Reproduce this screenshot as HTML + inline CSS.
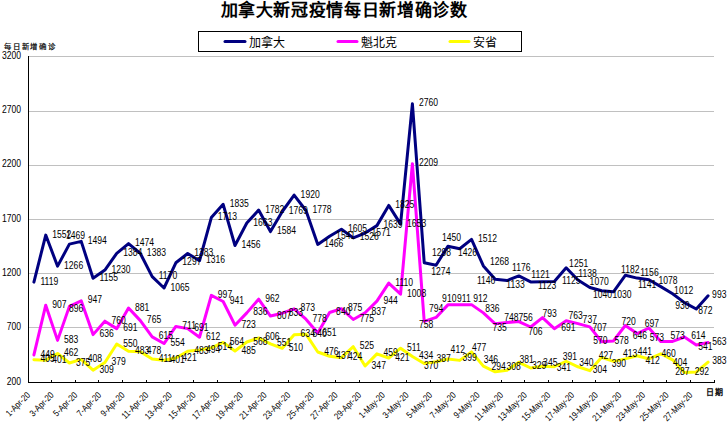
<!DOCTYPE html>
<html lang="zh-CN"><head><meta charset="utf-8"><style>
html,body{margin:0;padding:0;background:#fff;width:727px;height:423px;overflow:hidden}
svg{display:block}
text{font-family:"Liberation Sans",sans-serif}
</style></head><body>
<svg width="727" height="423" viewBox="0 0 727 423"><rect width="727" height="423" fill="#fff"/><line x1="28" y1="56.5" x2="714" y2="56.5" stroke="#c0c0c0" stroke-width="1"/><line x1="28" y1="111.5" x2="714" y2="111.5" stroke="#c0c0c0" stroke-width="1"/><line x1="28" y1="165.5" x2="714" y2="165.5" stroke="#c0c0c0" stroke-width="1"/><line x1="28" y1="219.5" x2="714" y2="219.5" stroke="#c0c0c0" stroke-width="1"/><line x1="28" y1="273.5" x2="714" y2="273.5" stroke="#c0c0c0" stroke-width="1"/><line x1="28" y1="327.5" x2="714" y2="327.5" stroke="#c0c0c0" stroke-width="1"/><line x1="28.5" y1="56" x2="28.5" y2="383" stroke="#000" stroke-width="1"/><line x1="28" y1="382.5" x2="715" y2="382.5" stroke="#000" stroke-width="1"/><line x1="51.5" y1="380" x2="51.5" y2="382" stroke="#000" stroke-width="1"/><line x1="75.5" y1="380" x2="75.5" y2="382" stroke="#000" stroke-width="1"/><line x1="98.5" y1="380" x2="98.5" y2="382" stroke="#000" stroke-width="1"/><line x1="122.5" y1="380" x2="122.5" y2="382" stroke="#000" stroke-width="1"/><line x1="146.5" y1="380" x2="146.5" y2="382" stroke="#000" stroke-width="1"/><line x1="169.5" y1="380" x2="169.5" y2="382" stroke="#000" stroke-width="1"/><line x1="193.5" y1="380" x2="193.5" y2="382" stroke="#000" stroke-width="1"/><line x1="217.5" y1="380" x2="217.5" y2="382" stroke="#000" stroke-width="1"/><line x1="240.5" y1="380" x2="240.5" y2="382" stroke="#000" stroke-width="1"/><line x1="264.5" y1="380" x2="264.5" y2="382" stroke="#000" stroke-width="1"/><line x1="288.5" y1="380" x2="288.5" y2="382" stroke="#000" stroke-width="1"/><line x1="311.5" y1="380" x2="311.5" y2="382" stroke="#000" stroke-width="1"/><line x1="335.5" y1="380" x2="335.5" y2="382" stroke="#000" stroke-width="1"/><line x1="359.5" y1="380" x2="359.5" y2="382" stroke="#000" stroke-width="1"/><line x1="382.5" y1="380" x2="382.5" y2="382" stroke="#000" stroke-width="1"/><line x1="406.5" y1="380" x2="406.5" y2="382" stroke="#000" stroke-width="1"/><line x1="430.5" y1="380" x2="430.5" y2="382" stroke="#000" stroke-width="1"/><line x1="453.5" y1="380" x2="453.5" y2="382" stroke="#000" stroke-width="1"/><line x1="477.5" y1="380" x2="477.5" y2="382" stroke="#000" stroke-width="1"/><line x1="501.5" y1="380" x2="501.5" y2="382" stroke="#000" stroke-width="1"/><line x1="524.5" y1="380" x2="524.5" y2="382" stroke="#000" stroke-width="1"/><line x1="548.5" y1="380" x2="548.5" y2="382" stroke="#000" stroke-width="1"/><line x1="572.5" y1="380" x2="572.5" y2="382" stroke="#000" stroke-width="1"/><line x1="595.5" y1="380" x2="595.5" y2="382" stroke="#000" stroke-width="1"/><line x1="619.5" y1="380" x2="619.5" y2="382" stroke="#000" stroke-width="1"/><line x1="643.5" y1="380" x2="643.5" y2="382" stroke="#000" stroke-width="1"/><line x1="666.5" y1="380" x2="666.5" y2="382" stroke="#000" stroke-width="1"/><line x1="690.5" y1="380" x2="690.5" y2="382" stroke="#000" stroke-width="1"/><line x1="714.5" y1="380" x2="714.5" y2="382" stroke="#000" stroke-width="1"/><g font-family="Liberation Sans, sans-serif" font-size="10" fill="#000"><text transform="translate(21,58.58) scale(0.86,1.0)" text-anchor="end">3200</text><text transform="translate(21,112.91) scale(0.86,1.0)" text-anchor="end">2700</text><text transform="translate(21,167.25) scale(0.86,1.0)" text-anchor="end">2200</text><text transform="translate(21,221.58) scale(0.86,1.0)" text-anchor="end">1700</text><text transform="translate(21,275.91) scale(0.86,1.0)" text-anchor="end">1200</text><text transform="translate(21,330.25) scale(0.86,1.0)" text-anchor="end">700</text><text transform="translate(21,384.58) scale(0.86,1.0)" text-anchor="end">200</text></g><polyline points="33.91,359.72 45.74,360.16 57.57,353.53 69.40,362.98 81.22,359.40 93.05,370.16 104.88,362.55 116.71,343.97 128.53,351.25 140.36,351.79 152.19,359.07 164.02,360.16 175.84,357.98 187.67,351.25 199.50,350.05 211.33,347.88 223.16,342.45 234.98,351.03 246.81,342.01 258.64,337.88 270.47,343.86 282.29,348.31 294.12,334.84 305.95,334.19 317.78,352.01 329.60,356.25 341.43,357.66 353.26,346.68 365.09,366.03 376.91,353.86 388.74,357.98 400.57,348.20 412.40,356.57 424.22,363.53 436.05,361.68 447.88,358.96 459.71,360.38 471.53,351.90 483.36,366.13 495.19,371.79 507.02,370.26 518.84,362.33 530.67,367.98 542.50,366.24 554.33,366.68 566.16,361.24 577.98,366.79 589.81,370.70 601.64,357.33 613.47,361.35 625.29,358.85 637.12,355.81 648.95,358.96 660.78,353.75 672.60,359.83 684.43,372.55 696.26,372.00 708.09,362.11" fill="none" stroke="#ffff00" stroke-width="3" stroke-linejoin="round" stroke-linecap="round"/><polyline points="33.91,354.94 45.74,305.17 57.57,340.38 69.40,306.37 81.22,300.83 93.05,334.62 104.88,321.15 116.71,328.64 128.53,308.00 140.36,320.60 152.19,336.90 164.02,343.53 175.84,326.47 187.67,328.64 199.50,337.23 211.33,295.39 223.16,301.48 234.98,325.17 246.81,312.89 258.64,299.20 270.47,316.04 282.29,313.21 294.12,308.87 305.95,319.19 317.78,332.99 329.60,312.45 341.43,308.65 353.26,319.52 365.09,312.78 376.91,301.15 388.74,283.11 400.57,294.20 412.40,163.69 424.22,321.36 436.05,317.45 447.88,304.85 459.71,304.74 471.53,304.63 483.36,312.89 495.19,323.86 507.02,322.45 518.84,321.58 530.67,327.01 542.50,317.56 554.33,328.64 566.16,320.82 577.98,323.65 589.81,326.91 601.64,341.79 613.47,340.92 625.29,325.49 637.12,333.53 648.95,327.99 660.78,341.47 672.60,341.47 684.43,337.01 696.26,344.94 708.09,342.55" fill="none" stroke="#ff00ff" stroke-width="3" stroke-linejoin="round" stroke-linecap="round"/><polyline points="33.91,282.14 45.74,235.08 57.57,266.16 69.40,244.10 81.22,241.39 93.05,278.22 104.88,270.07 116.71,253.34 128.53,243.56 140.36,253.45 152.19,276.59 164.02,288.00 175.84,262.79 187.67,253.45 199.50,260.73 211.33,217.59 223.16,204.33 234.98,245.51 246.81,223.02 258.64,210.09 270.47,231.61 282.29,211.50 294.12,195.09 305.95,210.52 317.78,244.43 329.60,236.28 341.43,229.32 353.26,237.91 365.09,233.02 376.91,225.63 388.74,205.42 400.57,224.11 412.40,103.81 424.22,262.68 436.05,265.29 447.88,246.17 459.71,248.77 471.53,239.43 483.36,265.94 495.19,279.20 507.02,280.61 518.84,275.94 530.67,281.92 542.50,281.70 554.33,281.48 566.16,267.79 577.98,280.07 589.81,287.46 601.64,290.72 613.47,291.81 625.29,275.29 637.12,278.11 648.95,279.74 660.78,286.59 672.60,293.76 684.43,302.67 696.26,308.98 708.09,295.83" fill="none" stroke="#000080" stroke-width="3" stroke-linejoin="round" stroke-linecap="round"/><g font-family="Liberation Sans, sans-serif" font-size="10" fill="#000"><text transform="translate(40.41,362.30) scale(0.86,1.0)">405</text><text transform="translate(52.24,362.74) scale(0.86,1.0)">401</text><text transform="translate(64.07,356.11) scale(0.86,1.0)">462</text><text transform="translate(75.90,365.56) scale(0.86,1.0)">375</text><text transform="translate(87.72,361.98) scale(0.86,1.0)">408</text><text transform="translate(99.55,372.74) scale(0.86,1.0)">309</text><text transform="translate(111.38,365.13) scale(0.86,1.0)">379</text><text transform="translate(123.21,346.55) scale(0.86,1.0)">550</text><text transform="translate(135.03,353.83) scale(0.86,1.0)">483</text><text transform="translate(146.86,354.37) scale(0.86,1.0)">478</text><text transform="translate(158.69,361.65) scale(0.86,1.0)">411</text><text transform="translate(170.52,362.74) scale(0.86,1.0)">401</text><text transform="translate(182.34,360.56) scale(0.86,1.0)">421</text><text transform="translate(194.17,353.83) scale(0.86,1.0)">483</text><text transform="translate(206.00,352.63) scale(0.86,1.0)">494</text><text transform="translate(217.83,350.46) scale(0.86,1.0)">514</text><text transform="translate(229.66,345.03) scale(0.86,1.0)">564</text><text transform="translate(241.48,353.61) scale(0.86,1.0)">485</text><text transform="translate(253.31,344.59) scale(0.86,1.0)">568</text><text transform="translate(265.14,340.46) scale(0.86,1.0)">606</text><text transform="translate(276.97,346.44) scale(0.86,1.0)">551</text><text transform="translate(288.79,350.89) scale(0.86,1.0)">510</text><text transform="translate(300.62,337.42) scale(0.86,1.0)">634</text><text transform="translate(312.45,336.77) scale(0.86,1.0)">640</text><text transform="translate(324.28,354.59) scale(0.86,1.0)">476</text><text transform="translate(336.10,358.83) scale(0.86,1.0)">437</text><text transform="translate(347.93,360.24) scale(0.86,1.0)">424</text><text transform="translate(359.76,349.26) scale(0.86,1.0)">525</text><text transform="translate(371.59,368.61) scale(0.86,1.0)">347</text><text transform="translate(383.41,356.44) scale(0.86,1.0)">459</text><text transform="translate(395.24,360.56) scale(0.86,1.0)">421</text><text transform="translate(407.07,350.78) scale(0.86,1.0)">511</text><text transform="translate(418.90,359.15) scale(0.86,1.0)">434</text><text transform="translate(424.00,368.88) scale(0.86,1.0)">370</text><text transform="translate(436.40,361.78) scale(0.86,1.0)">387</text><text transform="translate(450.60,353.28) scale(0.86,1.0)">412</text><text transform="translate(462.50,361.48) scale(0.86,1.0)">399</text><text transform="translate(471.90,351.48) scale(0.86,1.0)">477</text><text transform="translate(483.70,362.68) scale(0.86,1.0)">346</text><text transform="translate(491.40,369.78) scale(0.86,1.0)">294</text><text transform="translate(506.50,370.28) scale(0.86,1.0)">308</text><text transform="translate(519.50,362.58) scale(0.86,1.0)">381</text><text transform="translate(531.90,369.08) scale(0.86,1.0)">329</text><text transform="translate(543.10,366.18) scale(0.86,1.0)">345</text><text transform="translate(556.70,370.98) scale(0.86,1.0)">341</text><text transform="translate(562.70,359.68) scale(0.86,1.0)">391</text><text transform="translate(579.20,365.58) scale(0.86,1.0)">340</text><text transform="translate(592.80,373.28) scale(0.86,1.0)">304</text><text transform="translate(598.70,359.08) scale(0.86,1.0)">427</text><text transform="translate(611.70,366.78) scale(0.86,1.0)">390</text><text transform="translate(623.00,357.28) scale(0.86,1.0)">413</text><text transform="translate(637.80,354.98) scale(0.86,1.0)">441</text><text transform="translate(645.50,364.38) scale(0.86,1.0)">412</text><text transform="translate(661.40,356.68) scale(0.86,1.0)">460</text><text transform="translate(673.00,365.58) scale(0.86,1.0)">404</text><text transform="translate(675.30,374.98) scale(0.86,1.0)">287</text><text transform="translate(694.80,374.98) scale(0.86,1.0)">292</text><text transform="translate(712.30,363.98) scale(0.86,1.0)">383</text><text transform="translate(40.41,357.52) scale(0.86,1.0)">449</text><text transform="translate(52.24,307.75) scale(0.86,1.0)">907</text><text transform="translate(64.07,342.96) scale(0.86,1.0)">583</text><text transform="translate(69.00,312.38) scale(0.86,1.0)">896</text><text transform="translate(87.72,303.41) scale(0.86,1.0)">947</text><text transform="translate(99.55,337.20) scale(0.86,1.0)">636</text><text transform="translate(111.38,323.73) scale(0.86,1.0)">760</text><text transform="translate(123.21,331.22) scale(0.86,1.0)">691</text><text transform="translate(135.03,310.58) scale(0.86,1.0)">881</text><text transform="translate(146.86,323.18) scale(0.86,1.0)">765</text><text transform="translate(158.69,339.48) scale(0.86,1.0)">615</text><text transform="translate(170.52,346.11) scale(0.86,1.0)">554</text><text transform="translate(182.34,329.05) scale(0.86,1.0)">711</text><text transform="translate(194.17,331.22) scale(0.86,1.0)">691</text><text transform="translate(206.00,339.81) scale(0.86,1.0)">612</text><text transform="translate(217.83,297.97) scale(0.86,1.0)">997</text><text transform="translate(229.66,304.06) scale(0.86,1.0)">941</text><text transform="translate(241.48,327.75) scale(0.86,1.0)">723</text><text transform="translate(253.31,315.47) scale(0.86,1.0)">836</text><text transform="translate(265.14,301.78) scale(0.86,1.0)">962</text><text transform="translate(276.97,318.62) scale(0.86,1.0)">807</text><text transform="translate(288.79,315.79) scale(0.86,1.0)">833</text><text transform="translate(300.62,311.45) scale(0.86,1.0)">873</text><text transform="translate(312.45,321.77) scale(0.86,1.0)">778</text><text transform="translate(322.20,335.58) scale(0.86,1.0)">651</text><text transform="translate(336.10,315.03) scale(0.86,1.0)">840</text><text transform="translate(347.93,311.23) scale(0.86,1.0)">875</text><text transform="translate(359.76,322.10) scale(0.86,1.0)">775</text><text transform="translate(371.59,315.36) scale(0.86,1.0)">837</text><text transform="translate(383.41,303.73) scale(0.86,1.0)">944</text><text transform="translate(395.24,285.69) scale(0.86,1.0)">1110</text><text transform="translate(407.07,296.78) scale(0.86,1.0)">1008</text><text transform="translate(418.90,166.27) scale(0.86,1.0)">2209</text><text transform="translate(419.00,327.78) scale(0.86,1.0)">758</text><text transform="translate(428.90,311.98) scale(0.86,1.0)">794</text><text transform="translate(442.10,301.68) scale(0.86,1.0)">910</text><text transform="translate(457.00,302.38) scale(0.86,1.0)">911</text><text transform="translate(473.30,302.38) scale(0.86,1.0)">912</text><text transform="translate(485.30,311.58) scale(0.86,1.0)">836</text><text transform="translate(492.40,330.68) scale(0.86,1.0)">735</text><text transform="translate(504.20,320.88) scale(0.86,1.0)">748</text><text transform="translate(518.40,320.88) scale(0.86,1.0)">756</text><text transform="translate(528.30,335.08) scale(0.86,1.0)">706</text><text transform="translate(542.50,317.38) scale(0.86,1.0)">793</text><text transform="translate(561.20,331.48) scale(0.86,1.0)">691</text><text transform="translate(568.50,319.48) scale(0.86,1.0)">763</text><text transform="translate(582.60,322.98) scale(0.86,1.0)">737</text><text transform="translate(592.50,331.48) scale(0.86,1.0)">707</text><text transform="translate(593.20,344.28) scale(0.86,1.0)">570</text><text transform="translate(614.50,344.28) scale(0.86,1.0)">578</text><text transform="translate(621.40,325.18) scale(0.86,1.0)">720</text><text transform="translate(632.70,339.38) scale(0.86,1.0)">646</text><text transform="translate(644.70,326.68) scale(0.86,1.0)">697</text><text transform="translate(649.70,341.48) scale(0.86,1.0)">573</text><text transform="translate(670.50,339.48) scale(0.86,1.0)">573</text><text transform="translate(691.20,339.48) scale(0.86,1.0)">614</text><text transform="translate(698.30,350.08) scale(0.86,1.0)">541</text><text transform="translate(712.30,344.78) scale(0.86,1.0)">563</text><text transform="translate(40.41,284.72) scale(0.86,1.0)">1119</text><text transform="translate(52.24,237.66) scale(0.86,1.0)">1552</text><text transform="translate(64.07,268.74) scale(0.86,1.0)">1266</text><text transform="translate(66.00,238.98) scale(0.86,1.0)">1469</text><text transform="translate(87.72,243.97) scale(0.86,1.0)">1494</text><text transform="translate(99.55,280.80) scale(0.86,1.0)">1155</text><text transform="translate(111.38,272.65) scale(0.86,1.0)">1230</text><text transform="translate(123.21,255.92) scale(0.86,1.0)">1384</text><text transform="translate(135.03,246.14) scale(0.86,1.0)">1474</text><text transform="translate(146.86,256.03) scale(0.86,1.0)">1383</text><text transform="translate(158.69,279.17) scale(0.86,1.0)">1170</text><text transform="translate(170.52,290.58) scale(0.86,1.0)">1065</text><text transform="translate(182.34,265.37) scale(0.86,1.0)">1297</text><text transform="translate(194.17,256.03) scale(0.86,1.0)">1383</text><text transform="translate(206.00,263.31) scale(0.86,1.0)">1316</text><text transform="translate(217.83,220.17) scale(0.86,1.0)">1713</text><text transform="translate(229.66,206.91) scale(0.86,1.0)">1835</text><text transform="translate(241.48,248.09) scale(0.86,1.0)">1456</text><text transform="translate(253.31,225.60) scale(0.86,1.0)">1663</text><text transform="translate(265.14,212.67) scale(0.86,1.0)">1782</text><text transform="translate(276.97,234.19) scale(0.86,1.0)">1584</text><text transform="translate(288.79,214.08) scale(0.86,1.0)">1769</text><text transform="translate(300.62,197.67) scale(0.86,1.0)">1920</text><text transform="translate(312.45,213.10) scale(0.86,1.0)">1778</text><text transform="translate(324.28,247.01) scale(0.86,1.0)">1466</text><text transform="translate(336.10,238.86) scale(0.86,1.0)">1541</text><text transform="translate(347.93,231.90) scale(0.86,1.0)">1605</text><text transform="translate(359.76,240.49) scale(0.86,1.0)">1526</text><text transform="translate(371.59,235.60) scale(0.86,1.0)">1571</text><text transform="translate(383.41,228.21) scale(0.86,1.0)">1639</text><text transform="translate(395.24,208.00) scale(0.86,1.0)">1825</text><text transform="translate(407.07,226.69) scale(0.86,1.0)">1653</text><text transform="translate(418.90,106.39) scale(0.86,1.0)">2760</text><text transform="translate(432.00,255.58) scale(0.86,1.0)">1298</text><text transform="translate(431.30,275.28) scale(0.86,1.0)">1274</text><text transform="translate(442.00,240.78) scale(0.86,1.0)">1450</text><text transform="translate(458.00,256.38) scale(0.86,1.0)">1426</text><text transform="translate(478.03,242.01) scale(0.86,1.0)">1512</text><text transform="translate(489.90,264.58) scale(0.86,1.0)">1268</text><text transform="translate(476.90,284.38) scale(0.86,1.0)">1146</text><text transform="translate(506.30,288.18) scale(0.86,1.0)">1133</text><text transform="translate(512.00,271.38) scale(0.86,1.0)">1176</text><text transform="translate(531.30,277.88) scale(0.86,1.0)">1121</text><text transform="translate(537.90,288.58) scale(0.86,1.0)">1123</text><text transform="translate(562.00,284.38) scale(0.86,1.0)">1125</text><text transform="translate(569.10,267.38) scale(0.86,1.0)">1251</text><text transform="translate(578.30,277.28) scale(0.86,1.0)">1138</text><text transform="translate(589.60,285.18) scale(0.86,1.0)">1070</text><text transform="translate(593.00,297.68) scale(0.86,1.0)">1040</text><text transform="translate(612.50,297.68) scale(0.86,1.0)">1030</text><text transform="translate(621.00,273.48) scale(0.86,1.0)">1182</text><text transform="translate(640.20,276.48) scale(0.86,1.0)">1156</text><text transform="translate(637.90,287.68) scale(0.86,1.0)">1141</text><text transform="translate(658.50,283.68) scale(0.86,1.0)">1078</text><text transform="translate(674.10,294.08) scale(0.86,1.0)">1012</text><text transform="translate(675.20,308.58) scale(0.86,1.0)">930</text><text transform="translate(698.20,314.48) scale(0.86,1.0)">872</text><text transform="translate(712.10,297.98) scale(0.86,1.0)">993</text></g><g font-family="Liberation Sans, sans-serif" font-size="10" fill="#000"><text transform="translate(30.71,395.8) rotate(-45) scale(0.77,0.92)" text-anchor="end">1-Apr-20</text><text transform="translate(54.37,395.8) rotate(-45) scale(0.77,0.92)" text-anchor="end">3-Apr-20</text><text transform="translate(78.02,395.8) rotate(-45) scale(0.77,0.92)" text-anchor="end">5-Apr-20</text><text transform="translate(101.68,395.8) rotate(-45) scale(0.77,0.92)" text-anchor="end">7-Apr-20</text><text transform="translate(125.33,395.8) rotate(-45) scale(0.77,0.92)" text-anchor="end">9-Apr-20</text><text transform="translate(148.99,395.8) rotate(-45) scale(0.77,0.92)" text-anchor="end">11-Apr-20</text><text transform="translate(172.64,395.8) rotate(-45) scale(0.77,0.92)" text-anchor="end">13-Apr-20</text><text transform="translate(196.30,395.8) rotate(-45) scale(0.77,0.92)" text-anchor="end">15-Apr-20</text><text transform="translate(219.96,395.8) rotate(-45) scale(0.77,0.92)" text-anchor="end">17-Apr-20</text><text transform="translate(243.61,395.8) rotate(-45) scale(0.77,0.92)" text-anchor="end">19-Apr-20</text><text transform="translate(267.27,395.8) rotate(-45) scale(0.77,0.92)" text-anchor="end">21-Apr-20</text><text transform="translate(290.92,395.8) rotate(-45) scale(0.77,0.92)" text-anchor="end">23-Apr-20</text><text transform="translate(314.58,395.8) rotate(-45) scale(0.77,0.92)" text-anchor="end">25-Apr-20</text><text transform="translate(338.23,395.8) rotate(-45) scale(0.77,0.92)" text-anchor="end">27-Apr-20</text><text transform="translate(361.89,395.8) rotate(-45) scale(0.77,0.92)" text-anchor="end">29-Apr-20</text><text transform="translate(385.54,395.8) rotate(-45) scale(0.77,0.92)" text-anchor="end">1-May-20</text><text transform="translate(409.20,395.8) rotate(-45) scale(0.77,0.92)" text-anchor="end">3-May-20</text><text transform="translate(432.85,395.8) rotate(-45) scale(0.77,0.92)" text-anchor="end">5-May-20</text><text transform="translate(456.51,395.8) rotate(-45) scale(0.77,0.92)" text-anchor="end">7-May-20</text><text transform="translate(480.16,395.8) rotate(-45) scale(0.77,0.92)" text-anchor="end">9-May-20</text><text transform="translate(503.82,395.8) rotate(-45) scale(0.77,0.92)" text-anchor="end">11-May-20</text><text transform="translate(527.47,395.8) rotate(-45) scale(0.77,0.92)" text-anchor="end">13-May-20</text><text transform="translate(551.13,395.8) rotate(-45) scale(0.77,0.92)" text-anchor="end">15-May-20</text><text transform="translate(574.78,395.8) rotate(-45) scale(0.77,0.92)" text-anchor="end">17-May-20</text><text transform="translate(598.44,395.8) rotate(-45) scale(0.77,0.92)" text-anchor="end">19-May-20</text><text transform="translate(622.09,395.8) rotate(-45) scale(0.77,0.92)" text-anchor="end">21-May-20</text><text transform="translate(645.75,395.8) rotate(-45) scale(0.77,0.92)" text-anchor="end">23-May-20</text><text transform="translate(669.40,395.8) rotate(-45) scale(0.77,0.92)" text-anchor="end">25-May-20</text><text transform="translate(693.06,395.8) rotate(-45) scale(0.77,0.92)" text-anchor="end">27-May-20</text></g><rect x="198.5" y="31.5" width="323" height="20" fill="#fff" stroke="#000" stroke-width="1"/><line x1="225" y1="41.5" x2="245" y2="41.5" stroke="#000080" stroke-width="3" stroke-linecap="round"/><text x="249" y="46.5" font-family="Liberation Sans, sans-serif" font-size="12" fill="#000">加拿大</text><line x1="338" y1="41.5" x2="357" y2="41.5" stroke="#ff00ff" stroke-width="3" stroke-linecap="round"/><text x="361" y="46.5" font-family="Liberation Sans, sans-serif" font-size="12" fill="#000">魁北克</text><line x1="450" y1="41.5" x2="469" y2="41.5" stroke="#ffff00" stroke-width="3" stroke-linecap="round"/><text x="473" y="46.5" font-family="Liberation Sans, sans-serif" font-size="12" fill="#000">安省</text><text x="220.5" y="15.5" font-family="Liberation Sans, sans-serif" font-size="17" letter-spacing="0.65" font-weight="bold" fill="#000">加拿大新冠疫情每日新增确诊数</text><text x="4.4" y="49.2" font-family="Liberation Sans, sans-serif" font-size="7.4" letter-spacing="1.65" font-weight="normal" fill="#000" stroke="#000" stroke-width="0.2">每日新增确诊</text><text x="706" y="394.8" font-family="Liberation Sans, sans-serif" font-size="8" letter-spacing="1.4" fill="#000" stroke="#000" stroke-width="0.3">日期</text></svg>
</body></html>
